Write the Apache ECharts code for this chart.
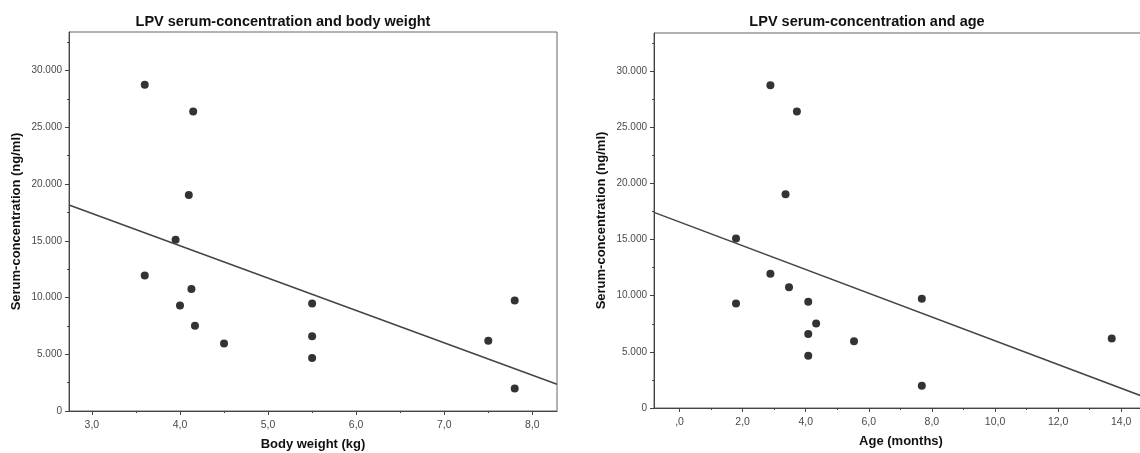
<!DOCTYPE html>
<html>
<head>
<meta charset="utf-8">
<title>LPV serum-concentration</title>
<script src="https://cdn.jsdelivr.net/npm/echarts@6/dist/echarts.min.js"></script>
<style>
  html, body { margin: 0; padding: 0; background: #fff; }
  #chart { width: 1140px; height: 453px; }
</style>
</head>
<body>
<div id="chart"></div>
<script>
// one entry per patient, same order in every array
const conc = [28750, 26400, 19030, 15100, 11950, 10750, 9300, 9470, 7520, 6580, 4660, 5940, 9730, 1980, 6200];
const weightKg = [3.60, 4.15, 4.10, 3.95, 3.60, 4.13, 4.00, 5.50, 4.17, 5.50, 5.50, 4.50, 7.80, 7.80, 7.50];
const ageMonths = [2.88, 3.72, 3.36, 1.79, 2.88, 3.47, 1.79, 4.08, 4.33, 4.08, 4.08, 5.53, 7.68, 7.68, 13.70];

// ticks as SPSS drew them
const concTicks = [0, 5000, 10000, 15000, 20000, 25000, 30000];
const concMinor = [2500, 7500, 12500, 17500, 22500, 27500, 32500];
const weightTicks = [3, 4, 5, 6, 7, 8];
const weightMinor = [3.5, 4.5, 5.5, 6.5, 7.5];
const ageTicks = [0, 2, 4, 6, 8, 10, 12, 14];
const ageMinor = [1, 3, 5, 7, 9, 11, 13];

const titles = ['LPV serum-concentration and body weight', 'LPV serum-concentration and age'];
const xNames = ['Body weight (kg)', 'Age (months)'];
const yName = 'Serum-concentration (ng/ml)';

const FONT = '"Liberation Sans", Arial, sans-serif';
const xRange = [[2.74, 8.28], [-0.81, 14.85]];
const yMax = 33400;

// least squares fit line, like the SPSS "fit line at total"
function fitLine(xs, ys, lo, hi) {
  const n = xs.length;
  const mx = xs.reduce((s, v) => s + v, 0) / n;
  const my = ys.reduce((s, v) => s + v, 0) / n;
  let sxy = 0, sxx = 0;
  for (let i = 0; i < n; i++) {
    sxy += (xs[i] - mx) * (ys[i] - my);
    sxx += (xs[i] - mx) * (xs[i] - mx);
  }
  const b = sxy / sxx, a = my - b * mx;
  return [[lo, a + b * lo], [hi, a + b * hi]];
}

const fmtX = v => v === 0 ? ',0' : v.toFixed(1).replace('.', ',');
const fmtY = v => v === 0 ? '0' : String(v).replace(/\B(?=(\d{3})+(?!\d))/g, '.');

function xAxes(grid, range, ticks, minor, name) {
  return [{
    type: 'value', gridIndex: grid, min: range[0], max: range[1],
    name: name, nameLocation: 'middle', nameGap: 27,
    nameTextStyle: { fontFamily: FONT, fontSize: 13, fontWeight: 'bold', color: '#111' },
    axisLine: { show: true, onZero: false, lineStyle: { color: '#444', width: 1 } },
    axisTick: { show: true, customValues: ticks, length: 4, lineStyle: { color: '#444' } },
    axisLabel: { customValues: ticks, formatter: fmtX, margin: 9, fontFamily: FONT, fontSize: 10.5, color: '#4a4a4a' },
    splitLine: { show: false }
  }, {
    type: 'value', gridIndex: grid, min: range[0], max: range[1], position: 'bottom',
    axisLine: { show: false, onZero: false },
    axisTick: { show: true, customValues: minor, length: 2, lineStyle: { color: '#444' } },
    axisLabel: { show: false },
    splitLine: { show: false }
  }];
}

function yAxes(grid) {
  return [{
    type: 'value', gridIndex: grid, min: 0, max: yMax,
    name: yName, nameLocation: 'middle', nameGap: 46, nameRotate: 90,
    nameTextStyle: { fontFamily: FONT, fontSize: 13, fontWeight: 'bold', color: '#111' },
    axisLine: { show: true, onZero: false, lineStyle: { color: '#444', width: 1 } },
    axisTick: { show: true, customValues: concTicks, length: 4, lineStyle: { color: '#444' } },
    axisLabel: { customValues: concTicks, formatter: fmtY, margin: 7, fontFamily: FONT, fontSize: 10, color: '#4a4a4a' },
    splitLine: { show: false }
  }, {
    type: 'value', gridIndex: grid, min: 0, max: yMax, position: 'left',
    axisLine: { show: false, onZero: false },
    axisTick: { show: true, customValues: concMinor, length: 2, lineStyle: { color: '#444' } },
    axisLabel: { show: false },
    splitLine: { show: false }
  }];
}

const xs = [weightKg, ageMonths];
const series = [];
xs.forEach((arr, g) => {
  series.push({
    type: 'scatter', xAxisIndex: g * 2, yAxisIndex: g * 2,
    symbolSize: 8, itemStyle: { color: '#000' },
    data: arr.map((v, i) => [v, conc[i]])
  });
  series.push({
    type: 'line', xAxisIndex: g * 2, yAxisIndex: g * 2,
    showSymbol: false, silent: true,
    lineStyle: { color: '#444', width: 1.5 },
    data: fitLine(arr, conc, xRange[g][0], xRange[g][1])
  });
});

const chart = echarts.init(document.getElementById('chart'));
chart.setOption({
  animation: false,
  backgroundColor: '#fff',
  title: [
    { text: titles[0], left: 283, top: 14, textAlign: 'center', padding: 0,
      textStyle: { fontFamily: FONT, fontSize: 14.5, fontWeight: 'bold', color: '#111' } },
    { text: titles[1], left: 867, top: 14, textAlign: 'center', padding: 0,
      textStyle: { fontFamily: FONT, fontSize: 14.5, fontWeight: 'bold', color: '#111' } }
  ],
  grid: [
    { left: 69, top: 32, width: 488, bottom: 42, show: true, borderColor: '#666', borderWidth: 1,
      outerBoundsMode: 'none' },
    // right panel runs past the edge of the picture, so its frame is cut off
    { left: 654, top: 33, width: 494, bottom: 45, show: true, borderColor: '#666', borderWidth: 1,
      outerBoundsMode: 'none' }
  ],
  xAxis: [].concat(xAxes(0, xRange[0], weightTicks, weightMinor, xNames[0]),
                   xAxes(1, xRange[1], ageTicks, ageMinor, xNames[1])),
  yAxis: [].concat(yAxes(0), yAxes(1)),
  series: series
});
</script>
</body>
</html>
